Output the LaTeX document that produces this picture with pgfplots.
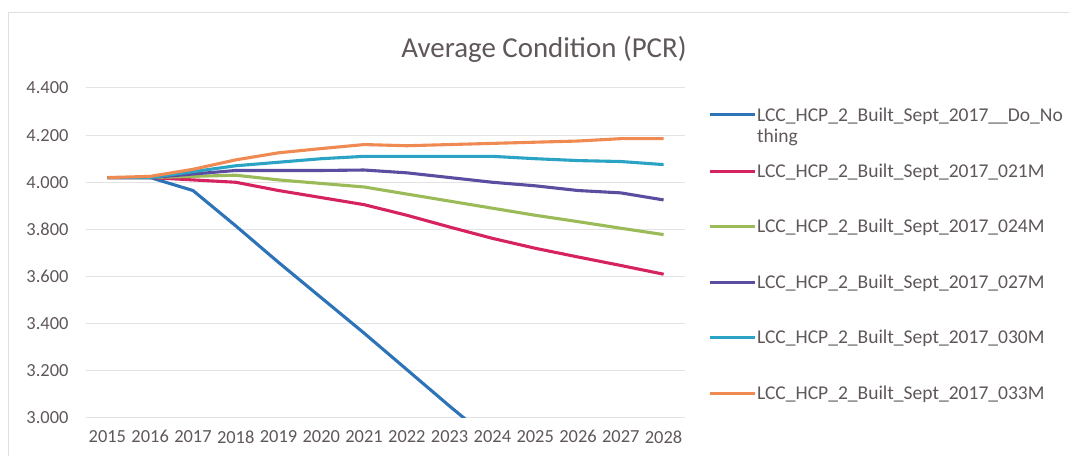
\documentclass[border=0pt]{standalone}
\usepackage{pgfplots}
\pgfplotsset{compat=1.18}
\usepackage{fontspec}
\setmainfont{Carlito}

\definecolor{txtgray}{HTML}{5F5758}
\definecolor{gridgray}{HTML}{E3E3E3}
\definecolor{cblue}{HTML}{2C73B8}
\definecolor{cred}{HTML}{D6235F}
\definecolor{cgreen}{HTML}{9BBB59}
\definecolor{cpurple}{HTML}{5B4EA0}
\definecolor{ccyan}{HTML}{2BA3C4}
\definecolor{corange}{HTML}{EF8A52}

\begin{document}
\begin{tikzpicture}[x=1bp,y=1bp]
\path[use as bounding box] (0,0) rectangle (1069,456);
\draw[gray!25, line width=1bp] (8,-10) -- (8,443) -- (1080,443);
\node[text=txtgray, font=\fontsize{29}{31}\selectfont] at (544,407) {Average Condition (PCR)};

\begin{axis}[
at={(86bp,38bp)}, anchor=south west,
scale only axis,
width=599bp, height=330bp,
xmin=2014.5, xmax=2028.5,
ymin=3.0, ymax=4.4,
xtick={2015,...,2028},
ytick={3.0,3.2,...,4.41},
ymajorgrids,
grid style={draw=gridgray, line width=1bp},
axis line style={draw=none},
major tick length=0pt,
tick label style={text=txtgray, font=\fontsize{18.5}{20}\selectfont},
/pgf/number format/assume math mode=true,
xticklabel style={/pgf/number format/1000 sep={}, yshift=-9bp},
yticklabel style={/pgf/number format/.cd, fixed, fixed zerofill, precision=3, /tikz/.cd, xshift=-14bp},
clip=true,
every axis plot/.append style={line width=3.1bp, line join=round},
legend cell align=left,
legend style={at={(rel axis cs:1.038,0.949)}, anchor=north west, draw=none, fill=none,
  inner sep=0pt, font=\fontsize{19.6}{22}\selectfont, text=txtgray,
  row sep=38.5bp, nodes={inner sep=1bp}},
legend image code/.code={\draw[#1] (0bp,0bp) -- (45bp,0bp);},
]
% Do nothing
\addplot[cblue] coordinates {(2015,4.02) (2016,4.02) (2017,3.965) (2018,3.815) (2019,3.66) (2020,3.51) (2021,3.36) (2022,3.205) (2023,3.05) (2024,2.90) (2025,2.75) (2026,2.60) (2027,2.45) (2028,2.30)};
% 021M
\addplot[cred] coordinates {(2015,4.02) (2016,4.02) (2017,4.01) (2018,4.0) (2019,3.965) (2020,3.935) (2021,3.905) (2022,3.86) (2023,3.81) (2024,3.762) (2025,3.72) (2026,3.683) (2027,3.647) (2028,3.61)};
% 024M
\addplot[cgreen] coordinates {(2015,4.02) (2016,4.02) (2017,4.025) (2018,4.03) (2019,4.01) (2020,3.995) (2021,3.98) (2022,3.95) (2023,3.92) (2024,3.89) (2025,3.86) (2026,3.833) (2027,3.805) (2028,3.778)};
% 027M
\addplot[cpurple] coordinates {(2015,4.02) (2016,4.02) (2017,4.035) (2018,4.05) (2019,4.05) (2020,4.05) (2021,4.052) (2022,4.04) (2023,4.02) (2024,4.0) (2025,3.985) (2026,3.965) (2027,3.955) (2028,3.925)};
% 030M
\addplot[ccyan] coordinates {(2015,4.02) (2016,4.02) (2017,4.045) (2018,4.07) (2019,4.085) (2020,4.10) (2021,4.11) (2022,4.11) (2023,4.11) (2024,4.11) (2025,4.10) (2026,4.092) (2027,4.088) (2028,4.075)};
% 033M
\addplot[corange] coordinates {(2015,4.02) (2016,4.025) (2017,4.055) (2018,4.095) (2019,4.125) (2020,4.143) (2021,4.16) (2022,4.155) (2023,4.16) (2024,4.165) (2025,4.17) (2026,4.175) (2027,4.185) (2028,4.185)};
\legend{{\vphantom{LCC\_}\rule[-5.5bp]{0pt}{21.1bp}\smash{\begin{tabular}[t]{@{}l@{}}LCC\_HCP\_2\_Built\_Sept\_2017\_\_Do\_No\\[-1bp]thing\end{tabular}}},
{\vphantom{LCC\_}LCC\_HCP\_2\_Built\_Sept\_2017\_021M},
{\vphantom{LCC\_}LCC\_HCP\_2\_Built\_Sept\_2017\_024M},
{\vphantom{LCC\_}LCC\_HCP\_2\_Built\_Sept\_2017\_027M},
{\vphantom{LCC\_}LCC\_HCP\_2\_Built\_Sept\_2017\_030M},
{\vphantom{LCC\_}LCC\_HCP\_2\_Built\_Sept\_2017\_033M}}
\end{axis}
\end{tikzpicture}
\end{document}
